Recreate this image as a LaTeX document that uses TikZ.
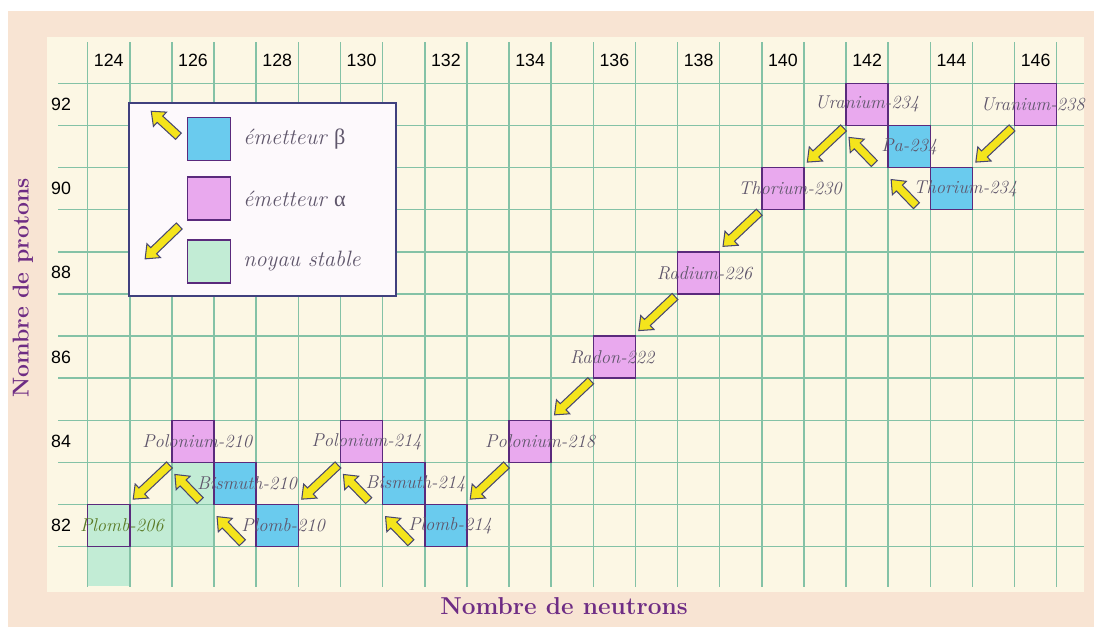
\documentclass[tikz,border=0pt]{standalone}
\usepackage{fontspec}
\usepackage{tikz}
\usetikzlibrary{positioning,calc}
\newfontfamily\grk{Liberation Serif}
\newfontfamily\numfont{Liberation Sans}
\definecolor{peach}{HTML}{F8E4D3}
\definecolor{cream}{HTML}{FCF7E4}
\definecolor{gridgreen}{HTML}{84C2A6}
\definecolor{alphapink}{HTML}{E9A9EE}
\definecolor{betablue}{HTML}{6ACBEE}
\definecolor{stablegreen}{HTML}{C2ECD5}
\definecolor{boxpurple}{HTML}{5A2A7C}
\definecolor{legendline}{HTML}{40407E}
\definecolor{legendfill}{HTML}{FDF9FC}
\definecolor{arrfill}{HTML}{F4E41C}
\definecolor{arrline}{HTML}{474770}
\definecolor{titlepurple}{HTML}{6E2C84}
\definecolor{lblgray}{HTML}{5F566B}
\definecolor{lblolive}{HTML}{5A7A26}
\tikzset{
  every node/.style={inner sep=1pt},
  nucl/.style={draw=boxpurple, line width=1pt, minimum size=1cm, inner sep=0pt, outer sep=0pt},
  alphabox/.style={nucl, fill=alphapink},
  betabox/.style={nucl, fill=betablue},
  stablebox/.style={nucl, fill=stablegreen},
  lbl/.style={font=\fontsize{12.5}{14}\selectfont\itshape, text=lblgray},
  lgd/.style={font=\fontsize{15}{17}\selectfont\itshape, text=lblgray},
  axnum/.style={font=\numfont\fontsize{12}{14}\selectfont, text=black},
  axtitle/.style={font=\bfseries\fontsize{16.5}{19}\selectfont, text=titlepurple},
  gridline/.style={draw=gridgreen, line width=1pt},
  decay/.style={draw=arrline, fill=arrfill, line width=0.7pt, line join=miter,
    to path={let \p1=(\tikztostart), \p2=(\tikztotarget),
      \n1={atan2(\y2-\y1,\x2-\x1)}, \n2={veclen(\x2-\x1,\y2-\y1)} in
      ++(\n1+90:1mm) -- ++(\n1:\n2-2.8mm) -- ++(\n1+90:1.3mm) -- (\p2)
      -- ($(\p2)+(\n1+180:2.8mm)+(\n1-90:2.3mm)$) -- ++(\n1+90:1.3mm)
      -- ++(\n1+180:\n2-2.8mm) -- cycle}},
}

\begin{document}
\begin{tikzpicture}
  \useasboundingbox (-2.082,1.977) rectangle (23.885,-12.905);
  \fill[peach] (-1.892,1.716) rectangle (23.885,-12.905);
  \fill[cream] (-0.966,1.099) rectangle (23.649,-12.075);
  % reste de la zone stable
  \fill[stablegreen] (1,-10) rectangle (3,-11) (2,-9) rectangle (3,-10) (0,-11) rectangle (1,-11.93);

  \foreach \k in {0,...,23} \draw[gridline] (\k,0.98) -- (\k,-11.955);
  \foreach \j in {0,...,11} \draw[gridline] (-0.705,-\j) -- (23.649,-\j);

  \foreach \n in {124,126,...,146} \node[axnum] (n\n) at (\n-123.5,0.553) {\n};
  \foreach \z in {82,84,...,92} \node[axnum] (z\z) at (-0.631,\z-92.5) {\z};

  \node[axtitle] (xtitle) at (11.305,-12.407) {Nombre de neutrons};
  \node[axtitle, rotate=90, font=\bfseries\fontsize{15.5}{18}\selectfont] (ytitle) at (-1.536,-4.859) {Nombre de protons};

  % legende
  \node[draw=legendline, fill=legendfill, line width=1pt, minimum width=6.338cm, minimum height=4.581cm, inner sep=0pt] (legend) at (4.149,-2.759) {};
  \node[betabox, minimum size=1.02cm, below right=0.356cm and 1.401cm of legend.north west] (lgb) {};
  \node[alphabox, minimum size=1.02cm, below=0.4cm of lgb] (lga) {};
  \node[stablebox, minimum size=1.02cm, below=0.47cm of lga] (lgs) {};
  \node[lgd, right=0.27cm of lgb] (lgbt) {émetteur {\grk\upshape β}};
  \node[lgd, right=0.27cm of lga] (lgat) {émetteur {\grk\upshape α}};
  \node[lgd, right=0.27cm of lgs] (lgst) {noyau stable};
  \draw[decay] ([shift={(-0.21,0.06)}]lgb.west) to ([shift={(-0.855,0.653)}]lgb.west);
  \draw[decay] ([shift={(-0.19,0.33)}]lgs.north west) to ([shift={(-1.0,-0.45)}]lgs.north west);

  % chaine de l'uranium 238
  \node[alphabox] (u238) at (22.5,-0.5) {};
  \node[betabox]  (th234) at (20.5,-2.5) {};
  \node[betabox]  (pa234) at (19.5,-1.5) {};
  \node[alphabox] (u234) at (18.5,-0.5) {};
  \node[alphabox] (th230) at (16.5,-2.5) {};
  \node[alphabox] (ra226) at (14.5,-4.5) {};
  \node[alphabox] (rn222) at (12.5,-6.5) {};
  \node[alphabox] (po218) at (10.5,-8.5) {};
  \node[betabox]  (pb214) at (8.5,-10.5) {};
  \node[betabox]  (bi214) at (7.5,-9.5) {};
  \node[alphabox] (po214) at (6.5,-8.5) {};
  \node[betabox]  (pb210) at (4.5,-10.5) {};
  \node[betabox]  (bi210) at (3.5,-9.5) {};
  \node[alphabox] (po210) at (2.5,-8.5) {};
  \node[stablebox] (pb206) at (0.5,-10.5) {};

  \foreach \a/\b in {u238/th234, u234/th230, th230/ra226, ra226/rn222, rn222/po218, po218/pb214, po214/pb210, po210/pb206}
    \draw[decay] ([shift={(-0.06,-0.06)}]\a.south west) to ([shift={(0.08,0.13)}]\b.north east);
  \foreach \a/\b in {th234/pa234, pa234/u234, pb214/bi214, bi214/po214, pb210/bi210, bi210/po210}
    \draw[decay] ([shift={(-0.33,0.095)}]\a.south west) to ([shift={(0.07,-0.285)}]\b.south west);

  \node[lbl, xshift=-0.07cm] (u238l) at (u238) {Uranium-238};
  \node[lbl] (u234l) at (u234) {Uranium-234};
  \node[lbl] (pa234l) at (pa234) {Pa-234};
  \node[lbl, xshift=0.33cm] (th234l) at (th234) {Thorium-234};
  \node[lbl, xshift=0.17cm] (th230l) at (th230) {Thorium-230};
  \node[lbl, xshift=0.14cm] (ra226l) at (ra226) {Radium-226};
  \node[lbl, xshift=-0.05cm] (rn222l) at (rn222) {Radon-222};
  \node[lbl, xshift=0.24cm] (po218l) at (po218) {Polonium-218};
  \node[lbl, xshift=0.12cm] (po214l) at (po214) {Polonium-214};
  \node[lbl, xshift=0.28cm] (bi214l) at (bi214) {Bismuth-214};
  \node[lbl, xshift=0.1cm] (pb214l) at (pb214) {Plomb-214};
  \node[lbl, xshift=0.1cm] (po210l) at (po210) {Polonium-210};
  \node[lbl, xshift=0.28cm] (bi210l) at (bi210) {Bismuth-210};
  \node[lbl, xshift=0.14cm] (pb210l) at (pb210) {Plomb-210};
  \node[lbl, text=lblolive, xshift=0.31cm] (pb206l) at (pb206) {Plomb-206};
\end{tikzpicture}
\end{document}
